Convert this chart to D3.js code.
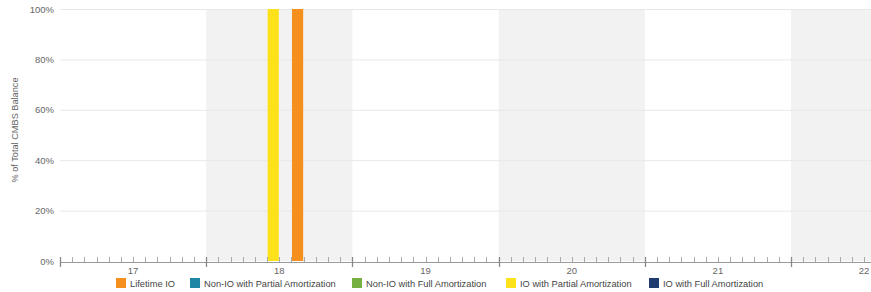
<!DOCTYPE html>
<html><head><meta charset="utf-8">
<script src="https://cdn.jsdelivr.net/npm/d3@7"></script>
<style>body{margin:0;background:#fff}svg{display:block;font-family:"Liberation Sans",Arial,sans-serif}</style>
</head><body><svg id="c" width="871" height="292"></svg>
<script>
// Data
const yearLabels = ["17","18","19","20","21","22"];
const shadedYears = ["18","20","22"];
const seriesNames = ["Lifetime IO","Non-IO with Partial Amortization","Non-IO with Full Amortization","IO with Partial Amortization","IO with Full Amortization"];
const seriesColors = ["#f5901f","#1f87a5","#76b043","#fde11b","#1f3b6f"];
// bars: year label, month index (0 = Jan), series name, share of balance (%)
const barYears = ["18","18"];
const barMonths = [5, 7];
const barSeries = ["IO with Partial Amortization","Lifetime IO"];
const barValues = [100, 100];
const yTicks = [0,20,40,60,80,100];

(function(){
const svg = d3.select("#c");
const mLeft = 60, mTop = 9, mBottom = 261;
const monthsTotal = yearLabels.length * 12;
const x = d3.scaleLinear().domain([0, monthsTotal]).range([mLeft, mLeft + monthsTotal * 146.2 / 12]);
const y = d3.scaleLinear().domain([0, 100]).range([mBottom, mTop]);
const color = d3.scaleOrdinal().domain(seriesNames).range(seriesColors);
const yi = s => yearLabels.indexOf(s);

svg.append("defs").append("clipPath").attr("id","pc")
  .append("rect").attr("x", mLeft).attr("y", 0).attr("width", 871 - mLeft).attr("height", mBottom + 10);

const plot = svg.append("g").attr("clip-path","url(#pc)");
plot.selectAll("rect.band").data(shadedYears).join("rect").attr("class","band")
  .attr("x", d => x(yi(d)*12)).attr("width", d => x(yi(d)*12+12) - x(yi(d)*12))
  .attr("y", mTop).attr("height", mBottom - mTop).attr("fill", "#f2f2f2");
plot.selectAll("line.grid").data(yTicks.filter(d => d > 0)).join("line").attr("class","grid")
  .attr("x1", mLeft).attr("x2", 871).attr("y1", d => y(d)+0.5).attr("y2", d => y(d)+0.5)
  .attr("stroke", "#e8e8e8").attr("stroke-width", 1);
const bars = barValues.map((v,i) => ({year: barYears[i], month: barMonths[i], series: barSeries[i], value: v}));
plot.selectAll("rect.bar").data(bars).join("rect").attr("class","bar")
  .attr("x", d => x(yi(d.year)*12 + d.month) + 0.5)
  .attr("width", d => x(yi(d.year)*12 + d.month + 1) - x(yi(d.year)*12 + d.month) - 1)
  .attr("y", d => y(d.value)).attr("height", d => y(0) - y(d.value))
  .attr("fill", d => color(d.series));

svg.selectAll("text.ytick").data(yTicks).join("text").attr("class","ytick")
  .attr("x", 54).attr("y", d => y(d) + 3.5).attr("text-anchor","end")
  .attr("font-size", 9.5).attr("fill", "#666").text(d => d + "%");
svg.append("text").attr("transform","translate(18,130) rotate(-90)")
  .attr("text-anchor","middle").attr("font-size", 9.2).attr("fill","#666")
  .text("% of Total CMBS Balance");

const ax = svg.append("g").attr("clip-path","url(#pc)");
ax.append("line").attr("x1", mLeft).attr("x2", 871).attr("y1", 262.5).attr("y2", 262.5)
  .attr("stroke","#999").attr("stroke-width",1);
const minor = d3.range(0, monthsTotal + 1).filter(m => m % 12 !== 0);
ax.selectAll("line.minor").data(minor).join("line").attr("class","minor")
  .attr("x1", d => Math.round(x(d))+0.5).attr("x2", d => Math.round(x(d))+0.5)
  .attr("y1", 257).attr("y2", 262).attr("stroke","#aaa");
const major = d3.range(0, monthsTotal + 1, 12);
svg.selectAll("line.major").data(major.filter(d => x(d) < 871)).join("line").attr("class","major")
  .attr("x1", d => Math.round(x(d))+0.5).attr("x2", d => Math.round(x(d))+0.5)
  .attr("y1", 257).attr("y2", 267).attr("stroke","#888").attr("stroke-width",1.3);
svg.selectAll("text.xtick").data(yearLabels).join("text").attr("class","xtick")
  .attr("x", (d,i) => x(i*12 + 6)).attr("y", 274).attr("text-anchor","middle")
  .attr("font-size", 9.5).attr("fill","#666").text(d => d);

const legX = [116, 190, 352, 506, 649];
const lg = svg.selectAll("g.leg").data(seriesNames).join("g").attr("class","leg")
  .attr("transform", (d,i) => `translate(${legX[i]},278)`);
lg.append("rect").attr("width",10).attr("height",10).attr("fill", d => color(d));
lg.append("text").attr("x",14).attr("y",8.7).attr("font-size",9.3).attr("fill","#444").text(d => d);
})();
</script></body></html>
